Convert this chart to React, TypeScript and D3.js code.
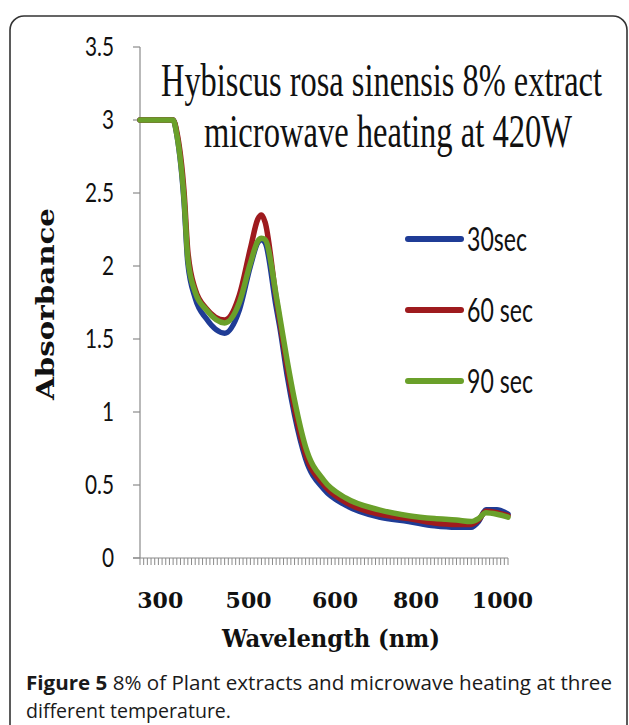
import React from 'react';
import * as d3 from 'd3';

// sample positions along the category axis (101 categories, 0..100)
const sampleIndex = [0, 9, 10, 12, 13, 15, 18, 23, 27, 30, 32, 33, 34, 37, 38, 40, 42, 45, 50, 56, 65, 73, 80, 86, 90, 92, 94, 97, 100];

const abs30 = [3.0, 3.0, 2.9, 2.43, 2.02, 1.78, 1.64, 1.54, 1.7, 2.0, 2.16, 2.18, 2.16, 1.72, 1.58, 1.25, 0.98, 0.68, 0.47, 0.36, 0.28, 0.25, 0.22, 0.21, 0.21, 0.25, 0.33, 0.33, 0.3];
const abs60 = [3.0, 3.0, 2.92, 2.5, 2.1, 1.84, 1.71, 1.63, 1.8, 2.12, 2.32, 2.35, 2.3, 1.78, 1.62, 1.3, 1.02, 0.71, 0.5, 0.38, 0.3, 0.27, 0.24, 0.23, 0.23, 0.26, 0.32, 0.31, 0.29];
const abs90 = [3.0, 3.0, 2.9, 2.45, 2.05, 1.82, 1.7, 1.61, 1.75, 2.02, 2.17, 2.19, 2.18, 1.8, 1.65, 1.35, 1.08, 0.76, 0.53, 0.41, 0.33, 0.29, 0.27, 0.26, 0.25, 0.27, 0.31, 0.3, 0.28];

const seriesNames = ['30sec', '60 sec', '90 sec'];
const seriesColors = ['#1f3c96', '#9e1b1e', '#6aa02a'];

const yTicks = [0, 0.5, 1, 1.5, 2, 2.5, 3, 3.5];
const xCategoryCount = 100;
const xTickLabels = ['300', '500', '600', '800', '1000'];
const xTickLabelIndex = [5.5, 29.5, 53, 75, 98.5];

const titleLines = ['Hybiscus rosa sinensis 8% extract', 'microwave heating at 420W'];

export default function App() {
  const x = d3.scaleLinear().domain([0, xCategoryCount]).range([140, 508]);
  const y = d3.scaleLinear().domain([0, 3.5]).range([558, 47]);

  const line = d3.line<[number, number]>()
    .x(d => x(d[0]))
    .y(d => y(d[1]))
    .curve(d3.curveMonotoneX);

  const all = [abs30, abs60, abs90];
  const legendY = [239, 310, 381];

  return (
    <svg width={629} height={725} style={{ position: 'absolute', left: 0, top: 0, background: '#fff' }}>
      <rect x={10} y={16} width={617} height={760} rx={14} fill="#fff" stroke="#333" strokeWidth={1.6} />

      {/* title, tall and narrow like the original */}
      <g transform="translate(161,96) scale(1,1.5)">
        <text fontFamily="Liberation Serif" fontSize={31} textLength={441} lengthAdjust="spacingAndGlyphs" fill="#111">{titleLines[0]}</text>
      </g>
      <g transform="translate(204,147) scale(1,1.5)">
        <text fontFamily="Liberation Serif" fontSize={31} textLength={368} lengthAdjust="spacingAndGlyphs" fill="#111">{titleLines[1]}</text>
      </g>

      {/* y axis */}
      <line x1={140} x2={140} y1={y(3.5)} y2={y(0)} stroke="#8a8a8a" strokeWidth={1.2} />
      {yTicks.map(t => (
        <g key={t}>
          <line x1={133} x2={140} y1={y(t)} y2={y(t)} stroke="#8a8a8a" strokeWidth={1.2} />
          <g transform={`translate(114,${y(t) + 9}) scale(0.8,1)`}>
            <text textAnchor="end" fontFamily="Lato" fontSize={26} fill="#111">{String(t)}</text>
          </g>
        </g>
      ))}

      {/* x axis */}
      <line x1={133} x2={508} y1={y(0)} y2={y(0)} stroke="#8a8a8a" strokeWidth={1.2} />
      {d3.range(0, xCategoryCount + 1).map(i => (
        <line key={i} x1={x(i)} x2={x(i)} y1={y(0)} y2={y(0) + 7} stroke="#8a8a8a" strokeWidth={1} />
      ))}
      {xTickLabels.map((l, i) => (
        <text key={l} x={x(xTickLabelIndex[i])} y={608} textAnchor="middle" fontFamily="DejaVu Serif" fontWeight="bold" fontSize={22} fill="#111">{l}</text>
      ))}
      <text x={331} y={647} textAnchor="middle" fontFamily="DejaVu Serif" fontWeight="bold" fontSize={25} textLength={218} lengthAdjust="spacingAndGlyphs" fill="#111">Wavelength (nm)</text>
      <text transform="translate(54,304) rotate(-90)" textAnchor="middle" fontFamily="DejaVu Serif" fontWeight="bold" fontSize={24} textLength={192} lengthAdjust="spacingAndGlyphs" fill="#111">Absorbance</text>

      {/* series */}
      {all.map((s, k) => (
        <path key={k} d={line(sampleIndex.map((xi, j) => [xi, s[j]] as [number, number])) || ''}
          fill="none" stroke={seriesColors[k]} strokeWidth={5.5} strokeLinejoin="round" strokeLinecap="round" />
      ))}

      {/* legend */}
      {seriesNames.map((n, k) => (
        <g key={n}>
          <line x1={408} x2={461} y1={legendY[k]} y2={legendY[k]} stroke={seriesColors[k]} strokeWidth={6} strokeLinecap="round" />
          <g transform={`translate(467,${legendY[k] + 12}) scale(0.7,1)`}>
            <text fontFamily="Lato" fontSize={33} fill="#111">{n}</text>
          </g>
        </g>
      ))}

      {/* caption */}
      <text x={26} y={690} fontFamily="Open Sans" fontSize={20} textLength={586} lengthAdjust="spacingAndGlyphs" fill="#1a1a1a">
        <tspan fontWeight="bold">Figure 5</tspan>
        <tspan> 8% of Plant extracts and microwave heating at three</tspan>
      </text>
      <text x={26} y={718} fontFamily="Open Sans" fontSize={20} textLength={205} lengthAdjust="spacingAndGlyphs" fill="#1a1a1a">different temperature.</text>
    </svg>
  );
}
